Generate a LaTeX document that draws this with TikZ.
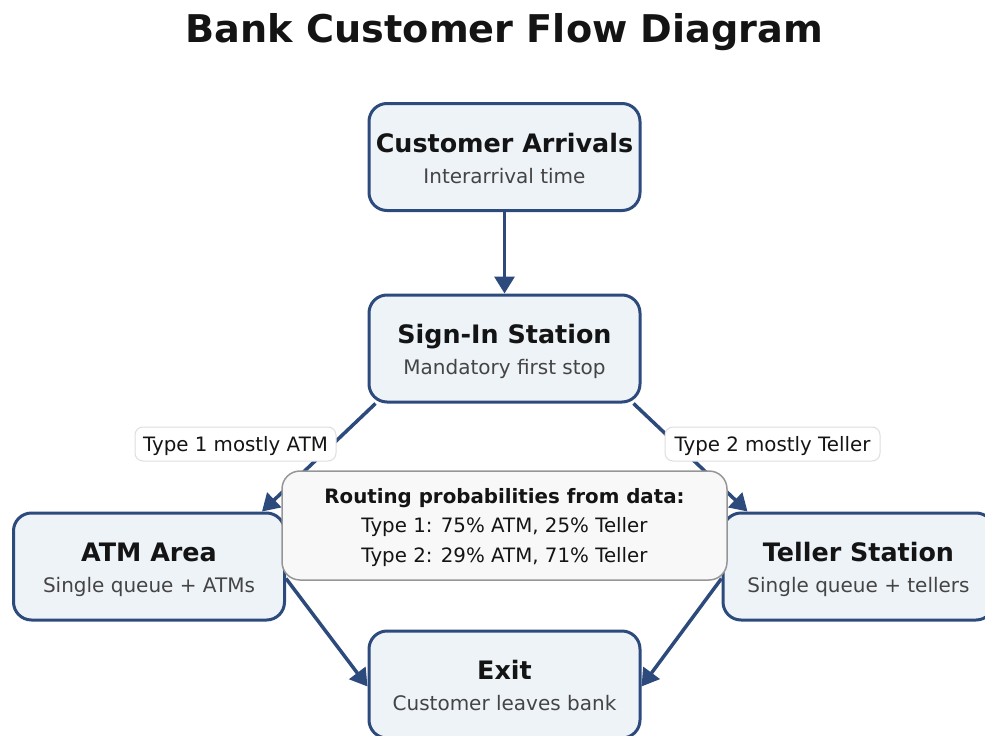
\documentclass[tikz,border=0pt]{standalone}
\usepackage{fontspec}
\setmainfont{DejaVu Sans}
\usetikzlibrary{arrows.meta,calc}
\definecolor{navy}{RGB}{44,74,124}
\definecolor{boxfill}{RGB}{238,243,248}
\definecolor{titlecol}{RGB}{20,20,20}
\definecolor{subcol}{RGB}{68,68,68}
\definecolor{notefill}{RGB}{248,248,248}
\definecolor{noteline}{RGB}{150,150,150}
\definecolor{lblline}{RGB}{222,222,222}
\begin{document}
\begin{tikzpicture}[x=1pt,y=-1pt,
  stationbox/.style={draw=navy, line width=3pt, fill=boxfill, rounded corners=18pt, minimum width=271pt, minimum height=107pt, inner sep=0pt},
  boxtitle/.style={anchor=base, inner sep=0pt, text=titlecol, font=\fontsize{25.4}{30}\selectfont\bfseries},
  boxsub/.style={anchor=base, inner sep=0pt, text=subcol, font=\fontsize{20}{24}\selectfont},
  flow/.style={draw=navy, line width=3.5pt, -{Triangle[length=17pt,width=20pt]}},
  edgelbl/.style={draw=lblline, line width=1pt, fill=white, rounded corners=8pt, inner sep=0pt, minimum height=34pt, text height=14pt, text depth=0pt, font=\fontsize{19.8}{23}\selectfont, text=titlecol},
  notebox/.style={draw=noteline, line width=1.5pt, fill=notefill, rounded corners=18pt, minimum width=445pt, minimum height=109pt, inner sep=0pt},
  notetext/.style={anchor=base, inner sep=0pt, text=titlecol, font=\fontsize{19.8}{23}\selectfont},
  maintitle/.style={anchor=base, inner sep=0pt, text=titlecol, font=\fontsize{38.2}{44}\selectfont\bfseries}
]
\useasboundingbox (0,0) rectangle (985,736);
\clip (0,0) rectangle (985,736);

\node[maintitle] (title) at (504.5,42) {Bank Customer Flow Diagram};

% station boxes
\node[stationbox] (arr) at (504.5,157) {};
\node[stationbox] (sign) at (504.5,348.5) {};
\node[stationbox] (atm) at (149,566.5) {};
\node[stationbox] (tel) at (858.5,566.5) {};
\node[stationbox] (exit) at (504.5,684.5) {};

\node[boxtitle] (arrT) at (504.5,152) {Customer Arrivals};
\node[boxsub] (arrS) at (504.5,183) {Interarrival time};
\node[boxtitle] (signT) at (504.5,343.5) {Sign-In Station};
\node[boxsub] (signS) at (504.5,374.5) {Mandatory first stop};
\node[boxtitle] (atmT) at (149,561.5) {ATM Area};
\node[boxsub] (atmS) at (149,592.5) {Single queue + ATMs};
\node[boxtitle] (telT) at (858.5,561.5) {Teller Station};
\node[boxsub] (telS) at (858.5,592.5) {Single queue + tellers};
\node[boxtitle] (exitT) at (504.5,679.5) {Exit};
\node[boxsub] (exitS) at (504.5,710.5) {Customer leaves bank};

% connectors
\draw[flow] (arr.south) -- (sign.north);
\draw[flow] ([xshift=8pt]sign.south west) -- ([xshift=-24pt]atm.north east);
\draw[flow] ([xshift=-8pt]sign.south east) -- ([xshift=26pt]tel.north west);
\draw[flow] ([yshift=-12pt]atm.east) -- ([yshift=-2pt]exit.west);
\draw[flow] ([yshift=-12pt]tel.west) -- ([yshift=-2pt]exit.east);

% edge labels
\node[edgelbl, minimum width=201pt] (l1) at (235.5,444) {Type 1 mostly ATM};
\node[edgelbl, minimum width=215pt] (l2) at (772.5,444) {Type 2 mostly Teller};

% routing note
\node[notebox] (note) at (504.5,525.5) {};
\node[notetext, font=\fontsize{19.8}{23}\selectfont\bfseries] (n1) at (504.5,503) {Routing probabilities from data:};
\node[notetext] (n2) at (504.5,532.5) {Type 1: 75\% ATM, 25\% Teller};
\node[notetext] (n3) at (504.5,562) {Type 2: 29\% ATM, 71\% Teller};
\end{tikzpicture}
\end{document}
